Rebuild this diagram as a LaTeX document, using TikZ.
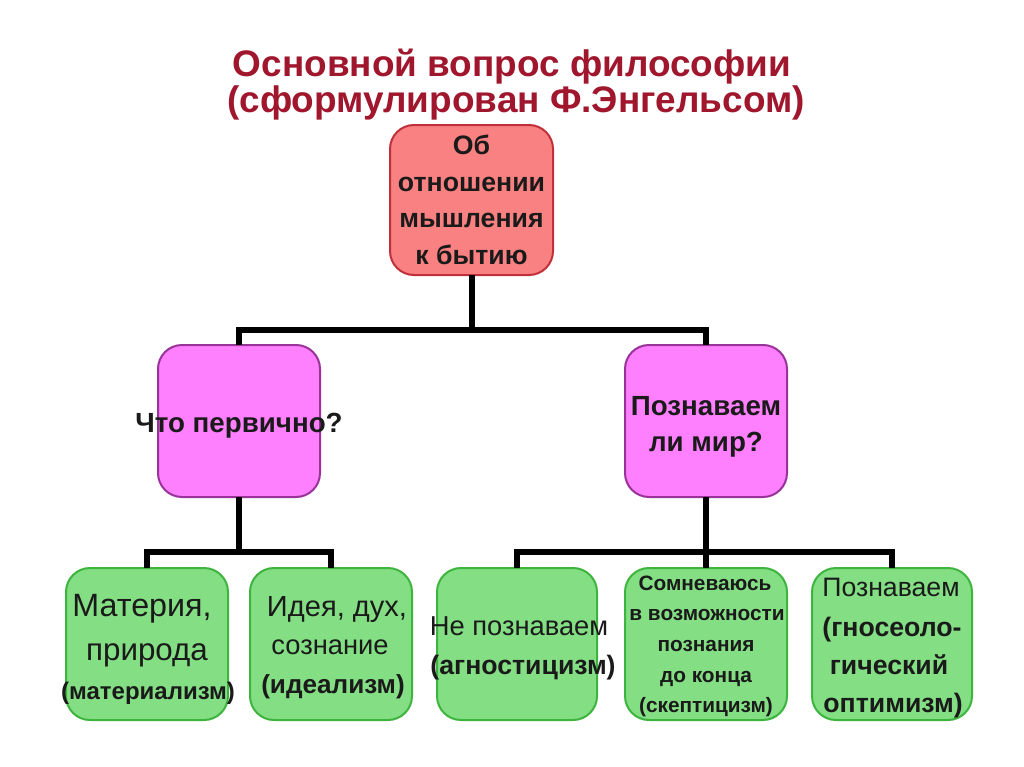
\documentclass[tikz,border=0pt]{standalone}
\usepackage{fontspec}
\setmainfont{Liberation Sans}
\definecolor{titlered}{HTML}{A0162C}
\definecolor{redfill}{HTML}{F98181}
\definecolor{redline}{HTML}{C0303A}
\definecolor{pinkfill}{HTML}{FF80FF}
\definecolor{pinkline}{HTML}{993399}
\definecolor{greenfill}{HTML}{84DE84}
\definecolor{greenline}{HTML}{3DB43D}
\definecolor{txt}{HTML}{1A1A1A}
\tikzset{
  x=0.75pt, y=-0.75pt,
  box/.style={rectangle, rounded corners=18pt, line width=1.5pt, inner sep=0pt, outer sep=0pt,
    minimum width=121.5pt, minimum height=114pt},
  redbox/.style={box, fill=redfill, draw=redline, minimum width=122.25pt, minimum height=112.5pt},
  pinkbox/.style={box, fill=pinkfill, draw=pinkline},
  greenbox/.style={box, fill=greenfill, draw=greenline},
  conn/.style={line width=4.5pt, draw=black, line join=miter},
  ln/.style={anchor=base, inner sep=0pt, text=txt},
  ttl/.style={anchor=base, inner sep=0pt, text=titlered, font=\bfseries\fontsize{27.7}{30}\selectfont},
  bigb/.style={ln, font=\bfseries\fontsize{20}{24}\selectfont},
  pinkb/.style={ln, font=\bfseries\fontsize{20.8}{24}\selectfont},
  smallb/.style={ln, font=\bfseries\fontsize{15.6}{18}\selectfont},
}
\begin{document}
\begin{tikzpicture}
\useasboundingbox[fill=white] (0,0) rectangle (1024,767);
% title
\node[ttl] (title1) at (512,76) {Основной вопрос философии};
\node[ttl] (title2) at (516,113) {(сформулирован Ф.Энгельсом)};
% boxes
\node[redbox] (top) at (471.5,200) {};
\node[pinkbox] (pL) at (239,421) {};
\node[pinkbox] (pR) at (706,421) {};
\node[greenbox] (g1) at (147,644) {};
\node[greenbox] (g2) at (331,644) {};
\node[greenbox, minimum width=120pt] (g3) at (517,644) {};
\node[greenbox] (g4) at (706,644) {};
\node[greenbox, minimum width=120pt] (g5) at (892,644) {};
% connectors
\coordinate (j1) at (471.5,330);
\coordinate (j2) at (239,552);
\coordinate (j3) at (706,552);
\draw[conn] (top.south) -- (j1);
\draw[conn] (pL.north) |- (j1) -| (pR.north);
\draw[conn] (pL.south) -- (j2);
\draw[conn] (g1.north) |- (j2) -| (g2.north);
\draw[conn] (pR.south) -- (j3);
\draw[conn] (g3.north) |- (j3) -| (g5.north);
\draw[conn] (j3) -- (g4.north);
% top box text
\node[bigb] (t1) at (471.5,154) {Об};
\node[bigb] (t2) at (471.5,191) {отношении};
\node[bigb] (t3) at (471.5,227) {мышления};
\node[bigb] (t4) at (471.5,264) {к бытию};
% pink texts
\node[pinkb] (p1) at (239,432) {Что первично?};
\node[pinkb] (p2) at (706,415) {Познаваем};
\node[pinkb] (p3) at (706,451) {ли мир?};
% green 1
\node[ln, font=\fontsize{24.2}{28}\selectfont] (a1) at (142,616) {Материя,};
\node[ln, font=\fontsize{23.5}{28}\selectfont] (a2) at (147,660) {природа};
\node[ln, font=\bfseries\fontsize{18}{21}\selectfont] (a3) at (148,699) {(материализм)};
% green 2
\node[ln, font=\fontsize{21.8}{25}\selectfont] (b1) at (337,616) {Идея, дух,};
\node[ln, font=\fontsize{20.5}{25}\selectfont] (b2) at (330,654) {сознание};
\node[ln, font=\bfseries\fontsize{19.6}{23}\selectfont] (b3) at (333,693) {(идеализм)};
% green 3
\node[ln, font=\fontsize{20.5}{24}\selectfont] (c1) at (519,635) {Не познаваем};
\node[ln, font=\bfseries\fontsize{20}{24}\selectfont] (c2) at (523,674) {(агностицизм)};
% green 4
\node[smallb] (d1) at (705,590) {Сомневаюсь};
\node[smallb] (d2) at (707,620) {в возможности};
\node[smallb] (d3) at (706,651) {познания};
\node[smallb] (d4) at (706,682) {до конца};
\node[smallb] (d5) at (706,712) {(скептицизм)};
% green 5
\node[ln, font=\fontsize{20}{24}\selectfont] (e1) at (891,596) {Познаваем};
\node[ln, font=\bfseries\fontsize{20}{24}\selectfont] (e2) at (892,636) {(гносеоло-};
\node[ln, font=\bfseries\fontsize{20}{24}\selectfont] (e3) at (889,674) {гический};
\node[ln, font=\bfseries\fontsize{20}{24}\selectfont] (e4) at (893,712) {оптимизм)};
\end{tikzpicture}
\end{document}
